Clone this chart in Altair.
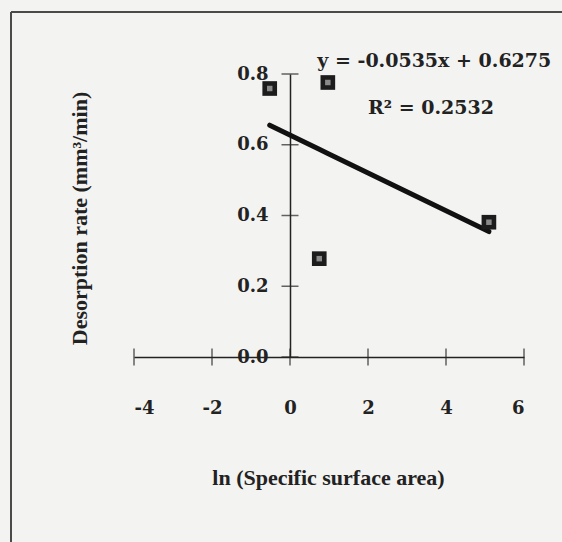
import altair as alt
import pandas as pd

# data
ln_area = [-0.52, 0.97, 0.75, 5.1]
desorption = [0.759, 0.776, 0.278, 0.381]

slope = -0.0535
intercept = 0.6275

x_ticks = [-4, -2, 0, 2, 4, 6]
y_ticks = [0.0, 0.2, 0.4, 0.6, 0.8]

eq_text = ["y = -0.0535x + 0.6275", "R² = 0.2532"]
eq_x = [0.7, 2.0]
eq_y = [0.837, 0.704]

pts = pd.DataFrame({"x": ln_area, "y": desorption})
xt = pd.DataFrame({"x": x_ticks, "y": [0] * len(x_ticks)})
yt = pd.DataFrame({"y": y_ticks, "x": [0] * len(y_ticks)})
ann = pd.DataFrame({"t": eq_text, "x": eq_x, "y": eq_y})

INK = "#222222"
NUMFONT = "DejaVu Serif"
TFONT = "Liberation Serif"

xscale = alt.Scale(domain=[-4, 6], nice=False, zero=False)
yscale = alt.Scale(domain=[0, 0.8], nice=False, zero=False)

xaxis = alt.Axis(
    values=x_ticks, ticks=False, tickSize=0, grid=False,
    labelExpr="'' + datum.value",
    domainColor=INK, domainWidth=1.5,
    labelFont=NUMFONT, labelFontSize=18, labelFontWeight="bold", labelColor=INK,
    labelPadding=51, labelBaseline="middle",
    title="ln (Specific surface area)", titleFont=TFONT, titleFontSize=22,
    titleFontWeight="bold", titleColor=INK, titleX=194, titleY=120,
    titleBaseline="middle", titleAlign="center",
)
yaxis = alt.Axis(
    values=y_ticks, format=".1f", ticks=False, tickSize=0, grid=False,
    offset=-156, domainColor=INK, domainWidth=1.5,
    labelFont=NUMFONT, labelFontSize=18, labelFontWeight="bold", labelColor=INK,
    labelPadding=22,
    title="Desorption rate (mm³/min)", titleFont=TFONT, titleFontSize=22,
    titleFontWeight="bold", titleColor=INK, titleX=-211, titleY=144,
    titleAngle=270, titleBaseline="middle", titleAlign="center",
)

base = alt.Chart(pts)

points_outer = base.mark_point(shape="square", filled=True, size=215, color="#1c1c1c", opacity=1).encode(
    x=alt.X("x:Q", scale=xscale, axis=xaxis),
    y=alt.Y("y:Q", scale=yscale, axis=yaxis),
)
points_inner = base.mark_point(shape="square", filled=True, size=30, color="#8a8a8a", opacity=1).encode(
    x=alt.X("x:Q", scale=xscale),
    y=alt.Y("y:Q", scale=yscale),
)

trend = base.transform_calculate(
    yhat=f"{slope} * datum.x + {intercept}"
).mark_line(color="#111111", strokeWidth=5, strokeCap="round").encode(
    x=alt.X("x:Q", scale=xscale),
    y=alt.Y("yhat:Q", scale=yscale),
    order=alt.Order("x:Q"),
)

xticks_m = alt.Chart(xt).mark_tick(orient="vertical", size=17, thickness=1.5, color=INK).encode(
    x=alt.X("x:Q", scale=xscale), y=alt.Y("y:Q", scale=yscale)
)
yticks_m = alt.Chart(yt).mark_tick(orient="horizontal", size=17, thickness=1.5, color=INK).encode(
    x=alt.X("x:Q", scale=xscale), y=alt.Y("y:Q", scale=yscale)
)

labels = alt.Chart(ann).mark_text(
    font=NUMFONT, fontSize=19, fontWeight="bold", color=INK, align="left", baseline="middle"
).encode(x=alt.X("x:Q", scale=xscale), y=alt.Y("y:Q", scale=yscale), text="t:N")

frame_v = alt.Chart(pts).mark_rule(color="#4a4a4a", strokeWidth=1.5).encode(
    x=alt.value(-123), y=alt.value(-62), y2=alt.value(480)
)
frame_h = alt.Chart(pts).mark_rule(color="#4a4a4a", strokeWidth=1.5).encode(
    x=alt.value(-123), x2=alt.value(440), y=alt.value(-62)
)

chart = alt.layer(
    frame_v, frame_h, xticks_m, yticks_m, trend, points_outer, points_inner, labels
).properties(
    width=390, height=283,
    autosize=alt.AutoSizeParams(type="none"),
    padding={"left": 134, "top": 74, "right": 38, "bottom": 185},
    background="#f3f3f1",
).configure_view(stroke=None)

chart.save("out.html", embed_options={"renderer": "svg", "actions": False})
